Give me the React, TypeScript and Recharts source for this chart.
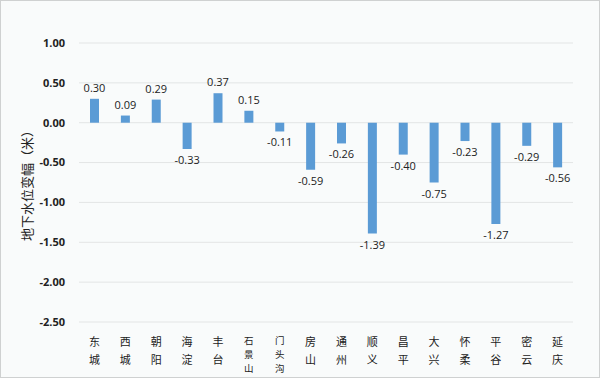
import React from "react";
import { BarChart, Bar, XAxis, YAxis, CartesianGrid, LabelList } from "recharts";

const districts = [
  "东城", "西城", "朝阳", "海淀", "丰台", "石景山", "门头沟", "房山",
  "通州", "顺义", "昌平", "大兴", "怀柔", "平谷", "密云", "延庆",
];
const changes = [
  0.3, 0.09, 0.29, -0.33, 0.37, 0.15, -0.11, -0.59,
  -0.26, -1.39, -0.4, -0.75, -0.23, -1.27, -0.29, -0.56,
];
const yTicks = [1, 0.5, 0, -0.5, -1, -1.5, -2, -2.5];

const data = districts.map((name, i) => ({ name, value: changes[i] }));

const CJK = '"Noto Sans CJK SC", sans-serif';

function VerticalTick(props: any) {
  const { x, y, payload } = props;
  const chars = String(payload.value).split("");
  const long = chars.length > 2;
  const step = long ? 14 : 18;
  return (
    <text x={x} y={y} textAnchor="middle" fill="#222" fontSize={long ? 9.5 : 11} fontFamily={CJK}>
      {chars.map((c, i) => (
        <tspan key={i} x={x} dy={i === 0 ? (long ? 14 : 16) : step}>
          {c}
        </tspan>
      ))}
    </text>
  );
}

function ValueLabel(props: any) {
  const { x, y, width, height, value } = props;
  const v = Number(value);
  const cx = x + width / 2;
  const top = Math.min(y, y + height);
  const bottom = Math.max(y, y + height);
  const ty = v >= 0 ? top - 7 : bottom + 15;
  return (
    <text x={cx} y={ty} textAnchor="middle" fill="#222" fontSize={11} fontFamily='"Open Sans", sans-serif'>
      {v.toFixed(2)}
    </text>
  );
}

export default function App() {
  return (
    <div
      style={{
        position: "absolute",
        left: 0,
        top: 0,
        width: 598,
        height: 376,
        background: "#f9fbfb",
        border: "1px solid #cfd1d1",
      }}
    >
      <BarChart
        width={598}
        height={376}
        data={data}
        margin={{ top: 42, right: 26, bottom: 0, left: 0 }}
      >
        <CartesianGrid vertical={false} stroke="#e3e5e5" />
        <XAxis
          dataKey="name"
          interval={0}
          axisLine={false}
          tickLine={false}
          height={55}
          tick={<VerticalTick />}
        />
        <YAxis
          width={78}
          domain={[-2.5, 1]}
          ticks={yTicks}
          interval={0}
          axisLine={false}
          tickLine={false}
          tickSize={0}
          tickMargin={14}
          tickFormatter={(v: number) => v.toFixed(2)}
          tick={{ fill: "#222", fontSize: 11, fontWeight: 700, fontFamily: '"Open Sans", sans-serif' }}
          label={{
            value: "地下水位变幅（米）",
            angle: -90,
            position: "insideLeft",
            dx: 21,
            dy: 0,
            style: { fill: "#222", fontSize: 13, fontFamily: CJK, textAnchor: "middle" },
          }}
        />
        <Bar dataKey="value" fill="#5b9bd5" barSize={9} isAnimationActive={false}>
          <LabelList dataKey="value" content={<ValueLabel />} />
        </Bar>
      </BarChart>
    </div>
  );
}
